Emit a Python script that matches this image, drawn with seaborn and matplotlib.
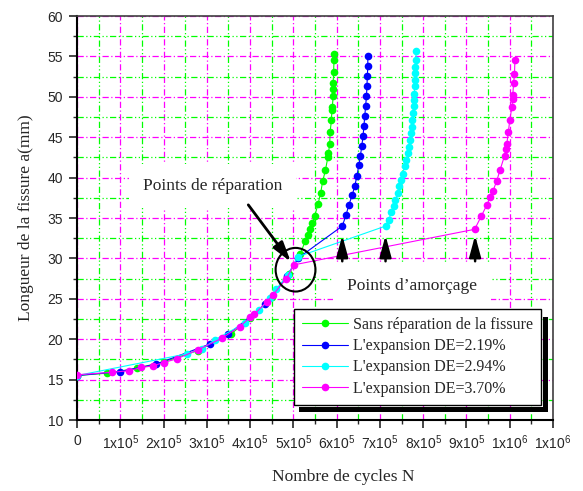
import numpy as np
import pandas as pd
import matplotlib
matplotlib.use("Agg")
import matplotlib.pyplot as plt
import seaborn as sns
from matplotlib.patches import Ellipse, Rectangle
from matplotlib.ticker import MultipleLocator, FixedLocator, FixedFormatter

# --- data (N cycles, crack length a in mm) ---
green_n = [0, 0.70e5, 1.38e5, 2.0e5, 2.8e5, 3.55e5, 4.0e5, 4.5e5, 4.9e5, 5.16e5,
           5.28e5, 5.34e5, 5.39e5, 5.43e5, 5.49e5, 5.57e5, 5.63e5, 5.68e5, 5.74e5,
           5.80e5, 5.81e5, 5.84e5, 5.85e5, 5.88e5, 5.89e5, 5.90e5, 5.92e5, 5.92e5,
           5.92e5, 5.93e5, 5.94e5, 5.94e5]
green_a = [15.5, 15.8, 16.4, 17.2, 18.6, 20.6, 22.6, 25.2, 28.1, 30.6,
           32.2, 32.9, 33.6, 34.4, 35.2, 36.7, 38.1, 39.6, 40.9,
           42.6, 43.0, 44.2, 45.7, 47.1, 48.4, 48.7, 50.1, 51.0,
           51.7, 53.1, 54.6, 55.3]

blue_n = [0, 1.0e5, 1.82e5, 3.07e5, 3.5e5, 4.34e5, 4.85e5, 5.1e5,
          6.13e5, 6.22e5, 6.28e5, 6.36e5, 6.42e5, 6.47e5, 6.51e5, 6.55e5, 6.58e5,
          6.61e5, 6.63e5, 6.65e5, 6.67e5, 6.69e5, 6.70e5, 6.71e5, 6.72e5, 6.72e5]
blue_a = [15.5, 16.0, 16.9, 19.4, 20.6, 24.3, 27.8, 30.0,
          34.0, 35.4, 36.6, 37.8, 39.0, 40.2, 41.5, 42.7, 43.9,
          45.1, 46.4, 47.6, 48.9, 50.1, 51.3, 52.6, 53.8, 55.0]

cyan_n = [0, 2.55e5, 2.88e5, 3.18e5, 3.88e5, 4.21e5, 4.47e5, 4.61e5, 4.88e5, 5.1e5,
          7.13e5, 7.21e5, 7.26e5, 7.32e5, 7.36e5, 7.41e5, 7.45e5, 7.49e5, 7.53e5,
          7.57e5, 7.61e5, 7.65e5, 7.67e5, 7.70e5, 7.72e5, 7.74e5, 7.75e5, 7.77e5,
          7.78e5, 7.79e5, 7.79e5, 7.81e5, 7.81e5, 7.82e5, 7.82e5, 7.83e5, 7.84e5]
cyan_a = [15.5, 18.2, 18.75, 19.9, 22.0, 23.6, 25.1, 26.2, 28.0, 30.2,
          34.0, 34.8, 35.7, 36.5, 37.2, 38.1, 38.9, 39.7, 40.5,
          41.4, 42.2, 43.0, 43.8, 44.7, 45.5, 46.3, 47.1, 48.0,
          48.8, 49.6, 50.4, 51.3, 52.1, 52.9, 53.7, 54.6, 55.7]

magenta_n = [0, 0.8e5, 1.2e5, 1.49e5, 1.75e5, 2.0e5, 2.32e5, 2.8e5, 3.34e5, 3.76e5,
             4.0e5, 4.1e5, 4.38e5, 4.53e5, 4.84e5, 5.01e5,
             9.19e5, 9.34e5, 9.47e5, 9.55e5, 9.61e5, 9.70e5, 9.78e5, 9.88e5, 9.92e5,
             9.93e5, 9.97e5, 10.0e5, 10.05e5, 10.07e5, 10.07e5, 10.09e5, 10.11e5, 10.12e5]
magenta_a = [15.6, 15.9, 16.1, 16.5, 16.7, 17.1, 17.6, 18.7, 20.1, 21.55,
             22.7, 23.1, 24.6, 25.5, 27.5, 29.2,
             33.6, 35.2, 36.6, 37.6, 38.3, 39.6, 41.0, 42.7, 43.5,
             44.1, 45.7, 47.1, 48.7, 49.7, 50.2, 51.7, 52.8, 54.6]

series_labels = ["Sans réparation de la fissure", "L'expansion DE=2.19%",
                 "L'expansion DE=2.94%", "L'expansion DE=3.70%"]
series_colors = ["#00ff00", "#0000ff", "#00ffff", "#ff00ff"]
init_n = [6.13e5, 7.13e5, 9.2e5]   # crack re-initiation points (arrows)

x_ticks = np.arange(0, 1.1e6 + 1, 1e5)
x_ticklabels = ["0"] + [r"$\mathregular{%dx10^{5}}$" % i for i in range(1, 10)] + \
               [r"$\mathregular{1x10^{6}}$", r"$\mathregular{1x10^{6}}$"]

sns.set_style("white")
plt.rcParams["font.family"] = ["Liberation Sans", "DejaVu Sans"]
serif = ["Liberation Serif", "DejaVu Serif"]

fig = plt.figure(figsize=(5.83, 4.91), dpi=100)
ax = fig.add_axes([77 / 583, 1 - 420 / 491, 476 / 583, 404 / 491])

all_n = [green_n, blue_n, cyan_n, magenta_n]
all_a = [green_a, blue_a, cyan_a, magenta_a]
for n, a, lab, col in zip(all_n, all_a, series_labels, series_colors):
    df = pd.DataFrame({"N": n, "a": a})
    sns.lineplot(data=df, x="N", y="a", ax=ax, color=col, label=lab, sort=False,
                 estimator=None, marker="o", markersize=5.5, markeredgewidth=0,
                 linewidth=0.8, zorder=3)

ax.set_xlim(0, 1.1e6)
ax.set_ylim(10, 60)
ax.xaxis.set_major_locator(FixedLocator(x_ticks))
ax.xaxis.set_major_formatter(FixedFormatter(x_ticklabels))
ax.xaxis.set_minor_locator(MultipleLocator(5e4))
ax.yaxis.set_major_locator(MultipleLocator(5))
ax.yaxis.set_minor_locator(MultipleLocator(2.5))
ax.tick_params(which="major", direction="out", length=6, width=1.2, labelsize=10,
               bottom=True, left=True, pad=4)
ax.tick_params(which="minor", direction="out", length=3, width=1, bottom=True, left=True)

ax.grid(which="major", color="#ff00ff", linestyle=(0, (5, 2, 1, 2)), linewidth=0.9, zorder=0)
ax.grid(which="minor", color="#00ff00", linestyle=(0, (5, 2, 1, 2, 1, 2)), linewidth=0.9, zorder=0)
ax.set_axisbelow(True)

for side in ["left", "bottom"]:
    ax.spines[side].set_color("black")
    ax.spines[side].set_linewidth(1.5)
for side in ["top", "right"]:
    ax.spines[side].set_color("#404040")
    ax.spines[side].set_linewidth(1.2)

ax.set_xlabel("Nombre de cycles N", family=serif, fontsize=12.5)
ax.set_ylabel("Longueur de la fissure a(mm)", family=serif, fontsize=12.5)
ax.xaxis.set_label_coords(0.559, -0.122)
ax.yaxis.set_label_coords(-0.09, 0.5)

# annotations
ax.text(3.13e5, 39.0, "Points de réparation", family=serif, fontsize=12.5, ha="center",
        va="center", zorder=2,
        bbox=dict(boxstyle="square,pad=0.8", facecolor="white", edgecolor="none"))
ax.text(7.75e5, 26.6, "Points d\u2019amorçage", family=serif, fontsize=12.5, ha="center",
        va="center", zorder=2,
        bbox=dict(boxstyle="square,pad=0.8", facecolor="white", edgecolor="none"))

ax.annotate("", xy=(4.98e5, 29.3), xytext=(3.92e5, 36.9),
            arrowprops=dict(arrowstyle="-|>,head_length=1.2,head_width=0.35",
                            color="black", lw=2), zorder=5)
for x in init_n:
    ax.annotate("", xy=(x, 33.2), xytext=(x, 29.3),
                arrowprops=dict(arrowstyle="-|>,head_length=1.3,head_width=0.35",
                                color="black", lw=1.8), zorder=5)

ax.add_patch(Ellipse((5.05e5, 28.6), 0.92e5, 5.4, fill=False, edgecolor="black",
                     linewidth=1.5, zorder=5))

leg = ax.legend(loc="upper left", bbox_to_anchor=(0.456, 0.275), frameon=True,
                fancybox=False, framealpha=1, edgecolor="black",
                prop={"family": serif, "size": 11.5}, handlelength=2.9,
                handletextpad=0.3, labelspacing=0.33, borderpad=0.5,
                borderaxespad=0)
leg.get_frame().set_linewidth(1.0)
leg.set_zorder(6)

# Origin-style shadow behind the legend
fig.canvas.draw()
bb = leg.get_window_extent()
fig.patches.append(Rectangle((bb.x1 + 2, bb.y0 - 7), 5, bb.height - 1, transform=None,
                             facecolor="black", edgecolor="none", zorder=7))
fig.patches.append(Rectangle((bb.x0 + 5, bb.y0 - 7), bb.width - 3, 5, transform=None,
                             facecolor="black", edgecolor="none", zorder=7))

fig.savefig("out.png", dpi=100)
